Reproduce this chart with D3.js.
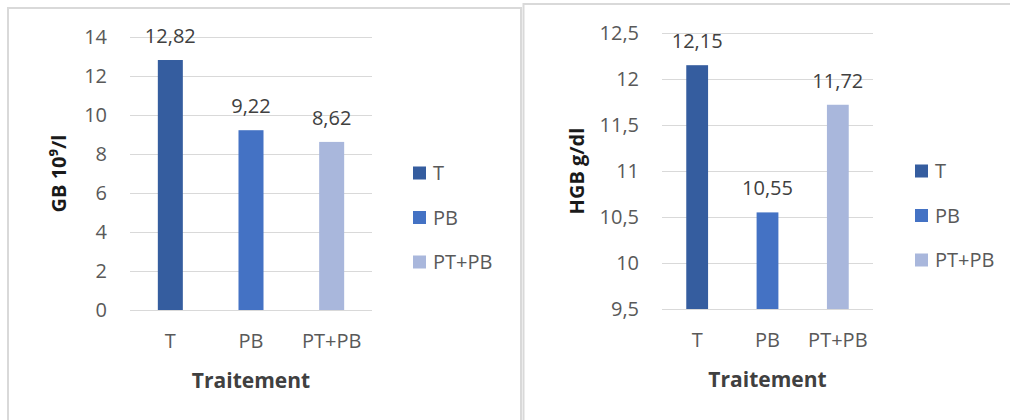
<!DOCTYPE html>
<html>
<head>
<meta charset="utf-8">
<script src="https://cdn.jsdelivr.net/npm/d3@7"></script>
<style>
  html, body { margin: 0; padding: 0; background: #fff; }
  svg { display: block; }
  text { font-family: "Open Sans", "Noto Sans", sans-serif; }
</style>
</head>
<body>
<svg id="chart" width="1010" height="420"></svg>
<script>
// Treatment groups and measured means
const categories = ["T", "PB", "PT+PB"];
const gbValues = [12.82, 9.22, 8.62];
const hgbValues = [12.15, 10.55, 11.72];
const gbTicks = [0, 2, 4, 6, 8, 10, 12, 14];
const hgbTicks = [9.5, 10, 10.5, 11, 11.5, 12, 12.5];
const barColors = ["#355d9f", "#4472c4", "#a9b7dc"];
const xTitle = "Traitement";

const fr = d3.formatLocale({ decimal: ",", thousands: " ", grouping: [3], currency: ["", " €"] });
const tickFmt = fr.format("~g");
const valueFmt = fr.format(".2f");

const svg = d3.select("#chart");

// Panel frames
svg.append("rect").attr("x", 8).attr("y", 8).attr("width", 513).attr("height", 430)
  .attr("fill", "none").attr("stroke", "#d9d9d9").attr("stroke-width", 2);
svg.append("rect").attr("x", 523.5).attr("y", 4).attr("width", 520).attr("height", 430)
  .attr("fill", "none").attr("stroke", "#d9d9d9").attr("stroke-width", 2);

function drawPanel(opt) {
  const g = svg.append("g");
  const x = d3.scaleBand().domain(categories).range([opt.left, opt.right]).paddingInner(0.69).paddingOuter(0.345);
  const y = d3.scaleLinear().domain(opt.domain).range([opt.bottom, opt.top]);

  // horizontal gridlines
  g.append("g").selectAll("line").data(opt.ticks).join("line")
    .attr("x1", opt.left).attr("x2", opt.right)
    .attr("y1", d => Math.round(y(d)) + 0.5).attr("y2", d => Math.round(y(d)) + 0.5)
    .attr("stroke", "#d9d9d9").attr("stroke-width", 1);

  // y axis labels
  const yAxis = d3.axisLeft(y).tickValues(opt.ticks).tickFormat(tickFmt).tickSize(0).tickPadding(opt.left - opt.tickX);
  const ya = g.append("g").attr("transform", `translate(${opt.left},0)`).call(yAxis);
  ya.select(".domain").remove();
  ya.selectAll("text").attr("fill", "#595959").style("font-size", "20px");

  // x axis labels
  const xAxis = d3.axisBottom(x).tickSize(0).tickPadding(0);
  const xa = g.append("g").attr("transform", `translate(0,${opt.bottom})`).call(xAxis);
  xa.select(".domain").remove();
  xa.selectAll("text").attr("fill", "#595959").style("font-size", "20px").attr("dy", null).attr("y", 38);

  // bars
  const vals = opt.values;
  g.append("g").selectAll("rect").data(categories).join("rect")
    .attr("x", d => x(d)).attr("width", x.bandwidth())
    .attr("y", (d, i) => y(vals[i])).attr("height", (d, i) => y(opt.domain[0]) - y(vals[i]))
    .attr("fill", (d, i) => barColors[i]);

  // value labels
  g.append("g").selectAll("text").data(categories).join("text")
    .attr("x", d => x(d) + x.bandwidth() / 2)
    .attr("y", (d, i) => y(vals[i]) - 17)
    .attr("text-anchor", "middle").attr("fill", "#404040").style("font-size", "20px")
    .text((d, i) => valueFmt(vals[i]));

  // axis titles
  g.append("text")
    .attr("transform", `translate(${opt.yTitleX},${(opt.top + opt.bottom) / 2}) rotate(-90)`)
    .attr("text-anchor", "middle").attr("dy", "0.35em")
    .attr("fill", "#1a1a1a").style("font-size", "20px").style("font-weight", "bold")
    .text(opt.yTitle);
  g.append("text")
    .attr("x", (opt.left + opt.right) / 2).attr("y", opt.bottom + 78)
    .attr("text-anchor", "middle").attr("fill", "#404040")
    .style("font-size", "21px").style("font-weight", "bold")
    .text(xTitle);

  // legend
  const lg = g.append("g").selectAll("g").data(categories).join("g")
    .attr("transform", (d, i) => `translate(${opt.legendX},${opt.legendY + i * 44.5})`);
  lg.append("rect").attr("x", 0).attr("y", -6.5).attr("width", 13).attr("height", 13)
    .attr("fill", (d, i) => barColors[i]);
  lg.append("text").attr("x", 20).attr("dy", "0.35em")
    .attr("fill", "#595959").style("font-size", "20px").text(d => d);
}

drawPanel({
  left: 130, right: 372, top: 37, bottom: 310,
  domain: [0, 14], ticks: gbTicks, values: gbValues,
  tickX: 107, yTitleX: 59, yTitle: "GB 10⁹/l",
  legendX: 413, legendY: 173
});

drawPanel({
  left: 662, right: 873, top: 33, bottom: 309,
  domain: [9.5, 12.5], ticks: hgbTicks, values: hgbValues,
  tickX: 639, yTitleX: 577, yTitle: "HGB g/dl",
  legendX: 915, legendY: 171
});
</script>
</body>
</html>
